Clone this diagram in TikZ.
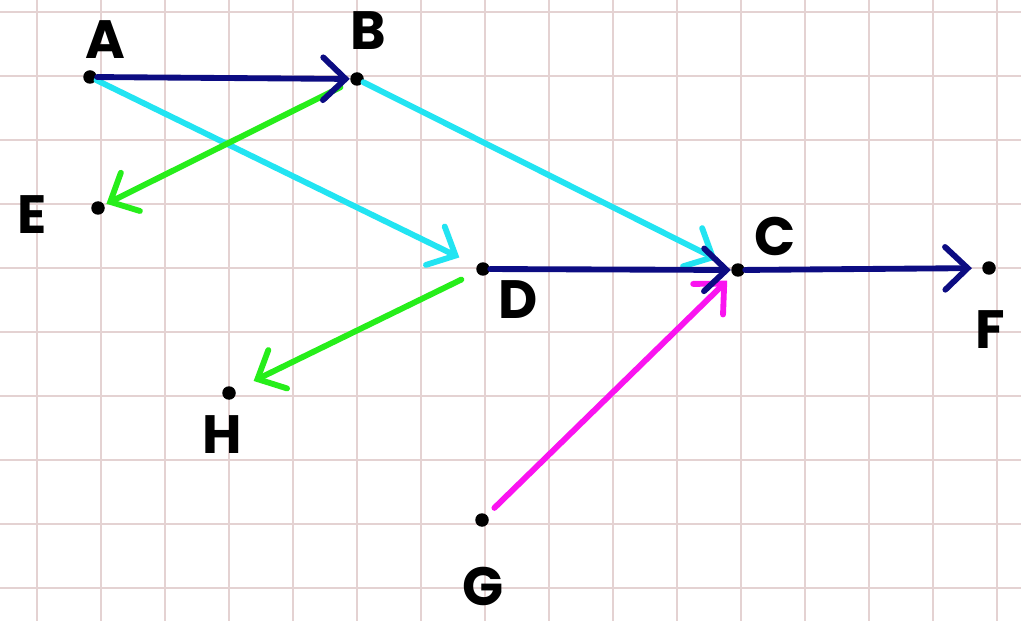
\documentclass[tikz,border=0pt]{standalone}
\usepackage{fontspec}
\setmainfont{Poppins}
\usepackage{xcolor}
\definecolor{GridPink}{RGB}{228,210,210}
\definecolor{PenNavy}{HTML}{0C0C82}
\definecolor{PenCyan}{HTML}{22E4F2}
\definecolor{PenGreen}{HTML}{26EE1A}
\definecolor{PenMagenta}{HTML}{FA14F0}
\usepackage{tikz}
\usetikzlibrary{arrows.meta}

\begin{document}
\begin{tikzpicture}[x=0.015625cm, y=-0.015625cm,
  dot/.style={circle, fill=black, inner sep=0pt, minimum size=6pt},
  letter/.style={font=\fontsize{24}{24}\selectfont\bfseries, text=black},
  pen/.style={line width=2.6pt, line cap=round,
    -{Straight Barb[length=10pt, width=19pt, line cap=round]}}]
  \useasboundingbox (0,0) rectangle (1021,621);
  \fill[white] (0,0) rectangle (1021,621);
  % grid
  \foreach \gx in {0,...,15}{
    \draw[GridPink, line width=0.5pt] (37+64*\gx,0) -- (37+64*\gx,621);
  }
  \foreach \gy in {0,...,9}{
    \draw[GridPink, line width=0.5pt] (0,12+64*\gy) -- (1021,12+64*\gy);
  }
  % points
  \node[dot] (A) at (90,77) {};
  \node[dot] (B) at (357,79) {};
  \node[dot] (E) at (98,208) {};
  \node[dot] (D) at (483,269) {};
  \node[dot] (C) at (738,270) {};
  \node[dot] (F) at (989,268) {};
  \node[dot] (H) at (229,393) {};
  \node[dot] (G) at (482,520) {};
  % letters
  \node[letter] (lblA) at (105,40) {A};
  \node[letter] (lblB) at (368,31) {B};
  \node[letter] (lblE) at (32,215) {E};
  \node[letter] (lblC) at (775,236) {C};
  \node[letter] (lblD) at (518,300) {D};
  \node[letter] (lblF) at (990,330) {F};
  \node[letter] (lblH) at (222,435) {H};
  \node[letter] (lblG) at (483,586) {G};
  % arrows
  \draw[pen, PenCyan, shorten >=8.5pt] (A) -- (D);
  \draw[pen, PenCyan, shorten >=7.5pt] (B) -- (C);
  \draw[pen, PenGreen, shorten <=5pt, shorten >=1pt] (B) -- (E);
  \draw[pen, PenGreen, shorten <=7.5pt, shorten >=9pt] (D) -- (H);
  \draw[pen, PenMagenta, shorten <=4.5pt, shorten >=3.5pt] (G) -- (C);
  \draw[pen, PenNavy] (A) -- (B);
  \draw[pen, PenNavy] (D) -- (C);
  \draw[pen, PenNavy, shorten >=4.4pt] (C) -- (F);
\end{tikzpicture}
\end{document}
